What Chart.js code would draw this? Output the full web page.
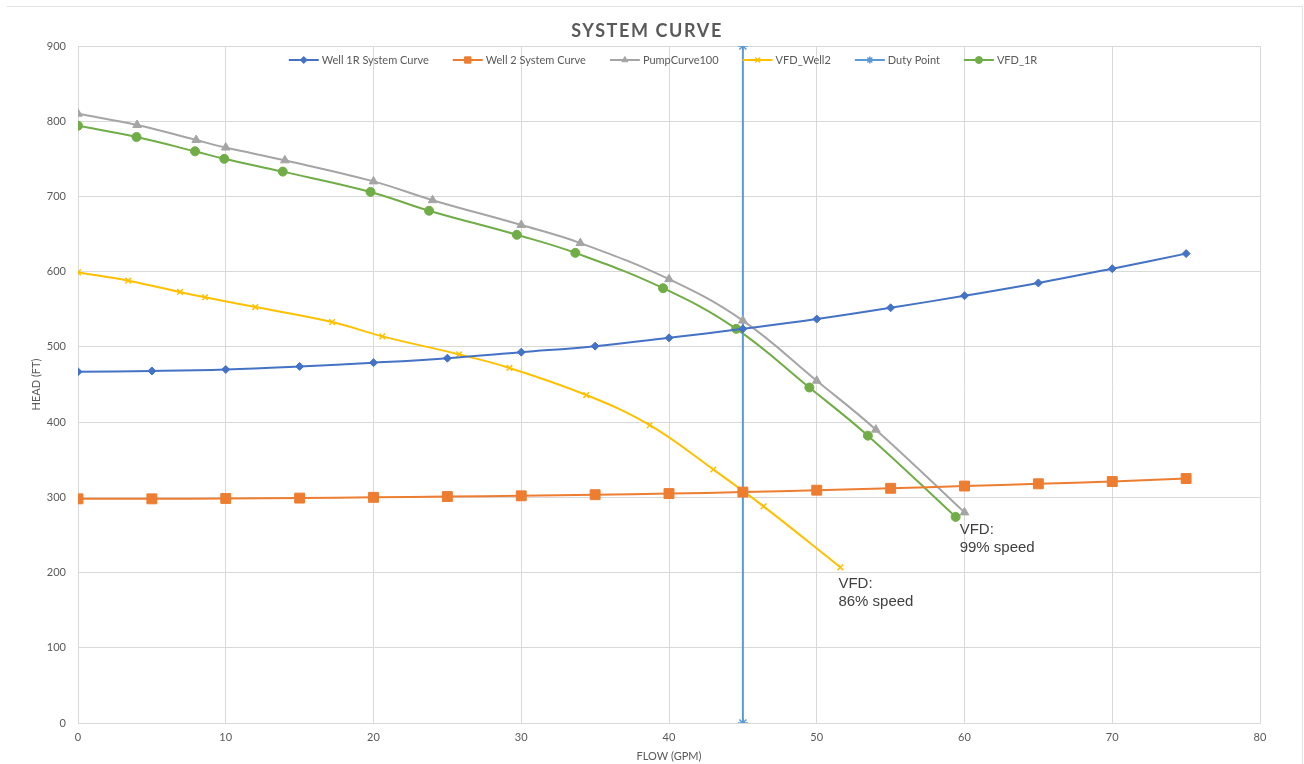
<!DOCTYPE html>
<html>
<head>
<meta charset="utf-8">
<title>System Curve</title>
<script src="https://cdn.jsdelivr.net/npm/chart.js@4/dist/chart.umd.min.js"></script>
<style>
  html, body { margin: 0; padding: 0; background: #fff; }
  .wrap { position: relative; width: 1304px; height: 764px; }
  .frame { position: absolute; left: 7px; top: 6px; width: 1295px; height: 800px;
           border-top: 1px solid #e3e3e3; border-right: 1px solid #e3e3e3; pointer-events: none; }
  canvas { position: absolute; left: 0; top: 0; }
</style>
</head>
<body>
<div class="wrap">
  <div class="frame"></div>
  <canvas id="systemChart" width="1304" height="764"></canvas>
</div>
<script>
// Datos
const flowTicks = [0, 10, 20, 30, 40, 50, 60, 70, 80];
const headTicks = [0, 100, 200, 300, 400, 500, 600, 700, 800, 900];

const systemFlow = [0, 5, 10, 15, 20, 25, 30, 35, 40, 45, 50, 55, 60, 65, 70, 75];
const well1RHead = [467, 468, 470, 474, 479, 485, 493, 501, 512, 524, 537, 552, 568, 585, 604, 624];
const well2Head = [298, 298, 298.5, 299, 300, 301, 302, 303.5, 305, 307, 309.5, 312, 315, 318, 321, 325];

const pumpFlow = [0, 4, 8, 10, 14, 20, 24, 30, 34, 40, 45, 50, 54, 60];
const pumpHead = [810, 795, 775, 765, 748, 720, 695, 662, 638, 590, 535, 455, 390, 280];

const vfdWell2Flow = [0, 3.4, 6.9, 8.6, 12, 17.2, 20.6, 25.8, 29.2, 34.4, 38.7, 43, 46.4, 51.6];
const vfdWell2Head = [599, 588, 573, 566, 553, 533, 514, 490, 472, 436, 396, 337, 288, 207];

const dutyFlow = [45, 45];
const dutyHead = [0, 900];

const vfd1RFlow = [0, 3.96, 7.92, 9.9, 13.86, 19.8, 23.76, 29.7, 33.66, 39.6, 44.55, 49.5, 53.46, 59.4];
const vfd1RHead = [794, 779, 760, 750, 733, 706, 681, 649, 625, 578, 524, 446, 382, 274];

const toPoints = (xs, ys) => xs.map((x, i) => ({ x, y: ys[i] }));

const GRID = "#d9d9d9";
const TEXT = "#595959";
const FONT = "Lato, 'Liberation Sans', sans-serif";

function series(label, xs, ys, color, style, radius, tension = 0.4) {
  return {
    label,
    data: toPoints(xs, ys),
    showLine: true,
    borderColor: color,
    backgroundColor: color,
    borderWidth: 2,
    pointStyle: style,
    pointRadius: radius,
    pointHoverRadius: radius,
    pointBorderWidth: style === "crossRot" || style === "star" ? 1.5 : 1,
    tension
  };
}

const datasets = [
  series("Well 1R System Curve", systemFlow, well1RHead, "#4472c4", "rectRot", 4),
  series("Well 2 System Curve", systemFlow, well2Head, "#ed7d31", "rect", 7),
  series("PumpCurve100", pumpFlow, pumpHead, "#a5a5a5", "triangle", 5),
  series("VFD_Well2", vfdWell2Flow, vfdWell2Head, "#ffc000", "crossRot", 4),
  series("Duty Point", dutyFlow, dutyHead, "#5b9bd5", "star", 5, 0),
  series("VFD_1R", vfd1RFlow, vfd1RHead, "#70ad47", "circle", 4.5)
];

// Título
const titlePlugin = {
  id: "excelTitle",
  afterDraw(chart) {
    const ctx = chart.ctx;
    ctx.save();
    ctx.font = "bold 18px " + FONT;
    if ("letterSpacing" in ctx) ctx.letterSpacing = "1.6px";
    ctx.fillStyle = TEXT;
    ctx.textAlign = "center";
    ctx.textBaseline = "middle";
    ctx.fillText("SYSTEM CURVE", 647, 31);
    ctx.restore();
  }
};

// Leyenda dentro del área del gráfico (línea + marcador)
const legendPlugin = {
  id: "insideLegend",
  afterDatasetsDraw(chart) {
    const ctx = chart.ctx;
    const area = chart.chartArea;
    const lineW = 30, gap = 3, spacing = 24, y = 60;
    ctx.save();
    ctx.font = "11px " + FONT;
    const items = chart.data.datasets.map(ds => ({ ds, w: lineW + gap + ctx.measureText(ds.label).width }));
    const total = items.reduce((s, it) => s + it.w, 0) + spacing * (items.length - 1);
    let x = (area.left + area.right) / 2 - total / 2 - 6;
    items.forEach(({ ds, w }) => {
      ctx.strokeStyle = ds.borderColor;
      ctx.lineWidth = 2;
      ctx.beginPath();
      ctx.moveTo(x, y);
      ctx.lineTo(x + lineW, y);
      ctx.stroke();
      ctx.fillStyle = ds.backgroundColor;
      ctx.lineWidth = ds.pointBorderWidth;
      if (Chart.helpers && Chart.helpers.drawPoint) {
        Chart.helpers.drawPoint(ctx, {
          pointStyle: ds.pointStyle,
          radius: ds.pointStyle === "rect" ? 4.5 : 3.5,
          rotation: 0,
          borderWidth: ds.pointBorderWidth
        }, x + lineW / 2, y);
      }
      ctx.fillStyle = TEXT;
      ctx.textAlign = "left";
      ctx.textBaseline = "middle";
      ctx.fillText(ds.label, x + lineW + gap, y);
      x += w + spacing;
    });
    ctx.restore();
  }
};

// Etiquetas de velocidad
const speedLabels = [
  { lines: ["VFD:", "99% speed"], x: vfd1RFlow[vfd1RFlow.length - 1], y: vfd1RHead[vfd1RHead.length - 1], dx: 4, dy: 13 },
  { lines: ["VFD:", "86% speed"], x: vfdWell2Flow[vfdWell2Flow.length - 1], y: vfdWell2Head[vfdWell2Head.length - 1], dx: -2, dy: 17 }
];

const labelPlugin = {
  id: "speedLabels",
  afterDatasetsDraw(chart) {
    const { ctx, scales } = chart;
    ctx.save();
    ctx.font = "15px 'Liberation Sans', Arial, sans-serif";
    ctx.fillStyle = "#404040";
    ctx.textAlign = "left";
    ctx.textBaseline = "middle";
    speedLabels.forEach(l => {
      const px = scales.x.getPixelForValue(l.x) + l.dx;
      const py = scales.y.getPixelForValue(l.y) + l.dy;
      l.lines.forEach((t, i) => ctx.fillText(t, px, py + i * 18));
    });
    ctx.restore();
  }
};

new Chart(document.getElementById("systemChart"), {
  type: "scatter",
  data: { datasets },
  options: {
    responsive: false,
    animation: false,
    layout: { padding: { top: 46, right: 44, left: 0, bottom: 0 } },
    plugins: {
      legend: { display: false },
      title: { display: false },
      tooltip: { enabled: false }
    },
    scales: {
      x: {
        type: "linear",
        min: 0,
        max: 80,
        afterFit: scale => { scale.height = 41; },
        afterBuildTicks: scale => { scale.ticks = flowTicks.map(value => ({ value })); },
        ticks: { color: TEXT, font: { family: FONT, size: 11 }, padding: 8 },
        grid: { color: GRID, drawTicks: false },
        border: { color: GRID },
        title: { display: true, text: "FLOW (GPM)", color: TEXT, font: { family: FONT, size: 11 }, padding: { top: 0, bottom: 1 } }
      },
      y: {
        type: "linear",
        min: 0,
        max: 900,
        afterFit: scale => { scale.width = 78; },
        afterBuildTicks: scale => { scale.ticks = headTicks.map(value => ({ value })); },
        ticks: { color: TEXT, font: { family: FONT, size: 11 }, padding: 12 },
        grid: { color: GRID, drawTicks: false },
        border: { color: GRID },
        title: { display: true, text: "HEAD (FT)", color: TEXT, font: { family: FONT, size: 11 }, padding: { top: 30, bottom: 0 } }
      }
    }
  },
  plugins: [titlePlugin, legendPlugin, labelPlugin]
});
</script>
</body>
</html>
